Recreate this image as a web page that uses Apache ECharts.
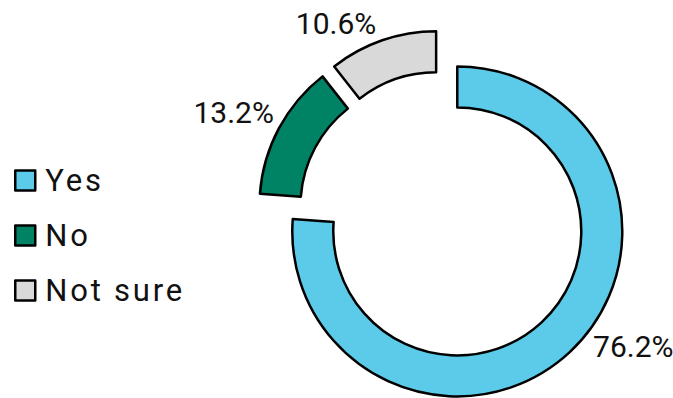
<!DOCTYPE html>
<html>
<head>
<meta charset="utf-8">
<script src="https://cdn.jsdelivr.net/npm/echarts@6/dist/echarts.min.js"></script>
<style>
  html, body { margin: 0; padding: 0; background: #fff; }
  #chart { width: 673px; height: 398px; }
</style>
</head>
<body>
<div id="chart"></div>
<script>
// Survey answers and their shares (percent)
const categories = ['Yes', 'No', 'Not sure'];
const shares = [76.2, 13.2, 10.6];
const colors = ['#5BCBE9', '#008264', '#D9D9D9'];

// Per-slice label placement (label line is hidden, lengths only steer the label)
const labelLineLengths = [-8, 34, 18];
const labelLineLengths2 = [24, -30, -5];

const FONT = 'Roboto, "Liberation Sans", sans-serif';

const chart = echarts.init(document.getElementById('chart'), null, { renderer: 'svg' });

const data = categories.map((name, i) => ({
  name: name,
  value: shares[i],
  selected: true,
  itemStyle: { color: colors[i] },
  labelLine: { show: false, length: labelLineLengths[i], length2: labelLineLengths2[i] }
}));

chart.setOption({
  animation: false,
  backgroundColor: '#fff',
  legend: {
    orient: 'vertical',
    left: 14,
    top: 165,
    padding: 0,
    icon: 'rect',
    itemWidth: 20,
    itemHeight: 20,
    itemGap: 24,
    selectedMode: false,
    data: categories,
    itemStyle: { borderColor: '#000', borderWidth: 2.5 },
    textStyle: {
      fontFamily: FONT,
      fontSize: 31,
      lineHeight: 31,
      color: '#111',
      padding: [0, 0, 0, 5]
    }
  },
  series: [{
    type: 'pie',
    center: [443, 216],
    radius: [124, 165],
    startAngle: 90,
    clockwise: true,
    selectedMode: 'multiple',
    selectedOffset: 21,
    avoidLabelOverlap: false,
    emphasis: { disabled: true },
    itemStyle: { borderColor: '#000', borderWidth: 2.5 },
    label: {
      show: true,
      position: 'outside',
      formatter: p => p.value.toFixed(1) + '%',
      fontFamily: FONT,
      fontSize: 30,
      color: '#111'
    },
    labelLine: { show: false },
    data: data
  }]
});

// Legend entries are set with wider tracking than the slice labels
function trackLegendText() {
  chart.getDom().querySelectorAll('text').forEach(t => {
    if (categories.includes(t.textContent.trim())) {
      t.setAttribute('letter-spacing', '2.8');
    }
  });
}
trackLegendText();
chart.on('finished', trackLegendText);
</script>
</body>
</html>
